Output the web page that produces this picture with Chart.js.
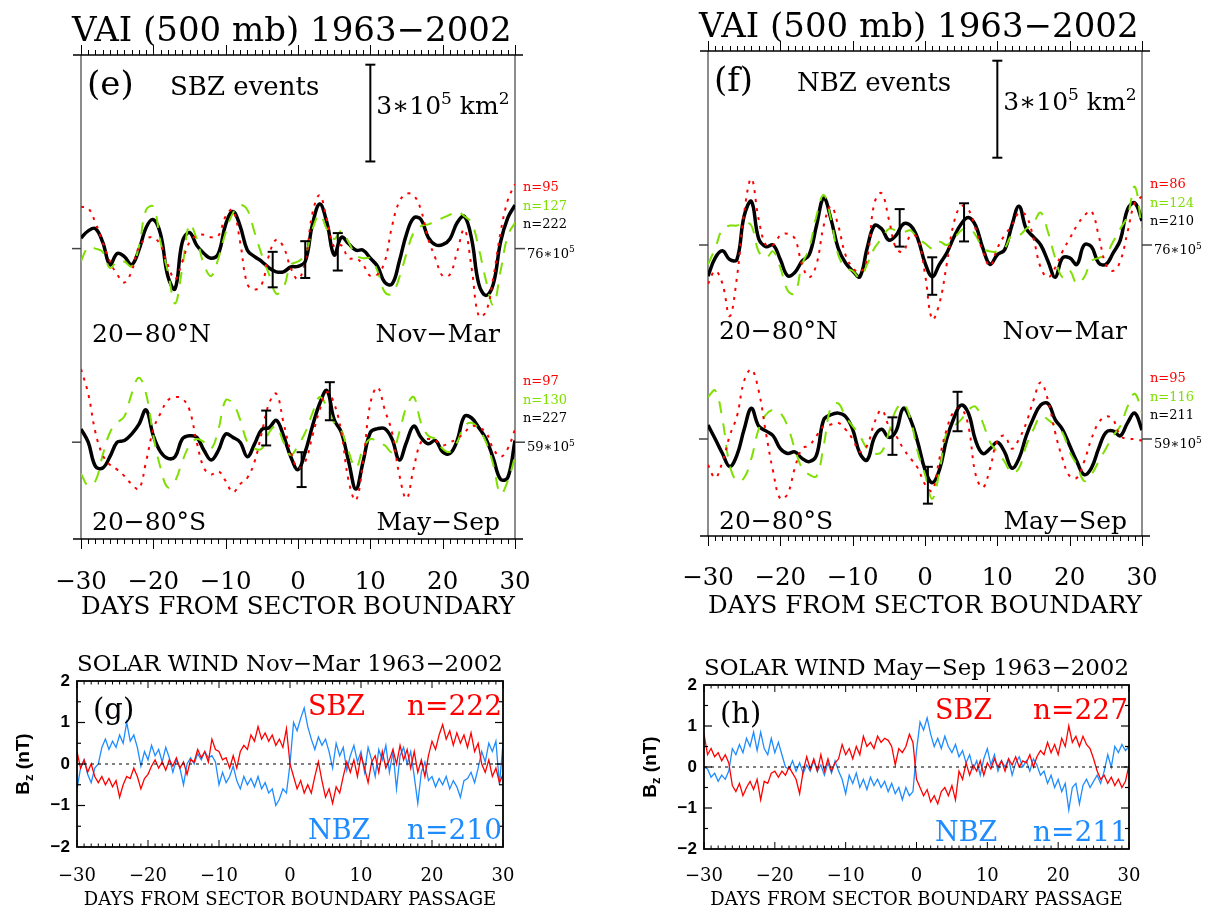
<!DOCTYPE html>
<html>
<head>
<meta charset="utf-8">
<title>VAI and solar wind Bz around sector boundaries</title>
<script src="https://cdn.jsdelivr.net/npm/chart.js@4.4.1/dist/chart.umd.min.js"></script>
<style>
  html, body { margin: 0; padding: 0; background: #fff; }
  body { width: 1210px; height: 912px; position: relative; overflow: hidden; }
  .panel { position: absolute; }
  .panel canvas { display: block; }
</style>
</head>
<body>
<div class="panel" style="left:0;top:0;width:605px;height:640px"><canvas id="vaiSbz"></canvas></div>
<div class="panel" style="left:605px;top:0;width:605px;height:640px"><canvas id="vaiNbz"></canvas></div>
<div class="panel" style="left:0;top:640px;width:605px;height:272px"><canvas id="windNov"></canvas></div>
<div class="panel" style="left:605px;top:640px;width:605px;height:272px"><canvas id="windMay"></canvas></div>
<script>
const SERIF = "'DejaVu Serif', serif";
const SANS = "'Liberation Sans', Arial, sans-serif";
const RED = '#ff0000';
const GREEN = '#7ee000';
const BLUE = '#1e8cff';

// days from sector boundary (VAI is daily)
const days = [-30, -29, -28, -27, -26, -25, -24, -23, -22, -21, -20, -19, -18, -17, -16, -15, -14, -13, -12, -11,
  -10, -9, -8, -7, -6, -5, -4, -3, -2, -1, 0, 1, 2, 3, 4, 5, 6, 7, 8, 9, 10, 11, 12, 13, 14, 15, 16, 17, 18, 19,
  20, 21, 22, 23, 24, 25, 26, 27, 28, 29, 30];

// VAI anomalies, units of 10^5 km^2
// (e) SBZ, 20-80N, Nov-Mar, about 76*10^5
const sbzNovRed = [1.3, 1.25, 0.8, 0.2, -0.4, -0.8, -1.05, -0.7, 0.05, 0.3,
  0.35, 0.1, -0.5, -0.95, -0.4, 0.2, 0.4, 0.43, 0.35, 0.4,
  1.0, 1.2, 0.2, -1.1, -1.27, -1.1, -0.2, 0.28, 0.05, -0.6,
  -0.95, -0.4, 1.1, 1.65, 0.9, 0.05, 0.1, -0.3, -0.3, -0.5,
  -0.85, -0.8, -0.4, 0.7, 1.45, 1.7, 1.65, 1.2, 0.3, -0.3,
  -0.85, -0.8, -0.1, 0.6, -0.6, -2.1, -1.95, -0.9, 0.5, 1.5, 2.0];
const sbzNovGreen = [-0.39, 0.05, 0.0, -0.1, -0.6, -0.4, -0.4, -0.55, 0.05, 1.2,
  1.3, 0.2, -0.7, -1.7, -0.6, 0.75, 0.3, -0.5, -0.85, -0.3,
  0.5, 1.1, 1.35, 1.2, 0.5, -0.2, -0.8, -1.4, -1.2, -0.5,
  -0.4, -0.2, 0.6, 1.05, 0.6, 0.3, 0.55, 0.2, -0.2, -0.3,
  -0.3, -0.7, -1.35, -1.4, -0.9, -0.15, 0.5, 0.7, 0.75, 0.85,
  0.95, 1.05, 1.15, 1.0, 0.8, 0.0, -1.0, -1.75, -0.7, 0.4, 0.8];
const sbzNovAll = [0.33, 0.55, 0.62, 0.2, -0.5, -0.15, -0.25, -0.5, -0.05, 0.65,
  0.9, 0.45, -0.85, -1.25, 0.2, 0.5, 0.1, -0.15, -0.3, -0.15,
  0.75, 1.15, 0.7, -0.05, -0.25, -0.4, -0.6, -0.72, -0.72, -0.57,
  -0.55, -0.4, 0.75, 1.38, 0.8, -0.2, 0.35, 0.15, -0.05, -0.05,
  -0.3, -0.55, -1.05, -1.1, -0.4, 0.45, 0.95, 0.9, 0.35, 0.12,
  0.12, 0.3, 0.8, 1.0, 0.3, -1.1, -1.45, -1.1, 0.2, 0.95, 1.35];
const sbzNovErrDays = [-3.5, 1.0, 5.5];
const sbzNovErrMean = [-0.65, -0.34, -0.1];
const sbzNovErrHalf = [0.55, 0.57, 0.58];

// (e) SBZ, 20-80S, May-Sep, about 59*10^5
const sbzMayRed = [2.27, 1.5, 0.3, -0.4, -0.7, -0.85, -1.05, -1.3, -1.45, -0.6,
  0.4, 0.9, 1.3, 1.4, 1.35, 1.0, 0.0, -0.8, -1.0, -0.9,
  -1.2, -1.55, -1.3, -1.1, -0.6, 0.3, 1.2, 1.5, 0.6, -0.3,
  -0.8, -0.6, 0.2, 1.0, 1.55, 1.2, 0.3, -1.2, -1.8, -0.6,
  1.2, 1.7, 1.0, 0.3, -1.0, -1.75, -0.8, 0.0, 0.1, 0.05,
  -0.1, 0.0, 0.1, 0.3, 0.5, 0.45, 0.3, -0.2, -0.45, -0.2, 0.4];
const sbzMayGreen = [-0.98, -1.35, -1.2, -0.4, 0.3, 0.6, 0.8, 1.5, 2.0, 1.5,
  0.2, -0.8, -1.4, -1.2, -0.6, -0.1, 0.1, 0.0, -0.2, 0.4,
  1.3, 1.2, 0.7, 0.0, -0.2, -0.2, 0.3, 0.5, 0.0, -0.4,
  -0.1, 0.3, 0.9, 1.4, 1.1, 0.6, 0.35, -0.3, -0.8, -0.2,
  0.1, 0.0, -0.1, -0.3, 0.3, 1.1, 1.4, 0.6, 0.2, 0.1,
  -0.2, -0.3, 0.0, 0.5, 0.6, 0.4, 0.0, -0.7, -1.6, -1.2, -0.45];
const sbzMayAll = [0.41, 0.0, -0.75, -0.8, -0.45, 0.0, 0.05, 0.25, 0.55, 1.0,
  0.2, -0.3, -0.5, -0.45, 0.1, 0.2, 0.15, -0.25, -0.55, -0.25,
  0.25, 0.15, 0.0, -0.45, -0.05, 0.4, 0.45, 0.68, 0.2, -0.45,
  -0.85, -0.3, 0.5, 1.2, 1.6, 0.7, 0.3, -0.6, -1.45, -0.6,
  0.3, 0.42, 0.42, 0.1, -0.55, 0.0, 0.5, 0.15, -0.05, 0.05,
  -0.3, -0.35, 0.05, 0.8, 0.75, 0.45, 0.1, -0.5, -1.15, -1.1, 0.05];
const sbzMayErrDays = [-4.4, 0.5, 4.4];
const sbzMayErrMean = [0.44, -0.85, 1.27];
const sbzMayErrHalf = [0.54, 0.54, 0.59];

// (f) NBZ, 20-80N, Nov-Mar, about 76*10^5
const nbzNovRed = [-1.2, -0.8, -1.2, -2.2, -1.0, 1.0, 2.05, 0.8, 0.0, 0.0,
  0.3, 0.35, 0.2, -0.6, -1.0, -0.6, 0.6, 1.2, 0.6, -0.3,
  -0.7, -0.85, -0.4, 1.3, 1.6, 0.8, -0.1, -0.2, 0.3, 0.2,
  -0.9, -2.3, -1.8, -0.6, 0.7, 1.2, 1.1, 0.5, -0.2, -0.65,
  -0.1, 0.3, 0.6, 1.0, 0.9, 0.2, -0.7, -1.0, -0.7, -0.2,
  0.2, 0.6, 0.9, 1.05, 0.3, -0.6, -0.8, -0.5, 0.4, 1.3, 1.5];
const nbzNovGreen = [-0.6, -0.1, 0.5, 0.6, 0.6, 0.7, 0.6, -0.2, -0.4, -0.2,
  -0.7, -1.4, -1.5, -0.6, -0.1, 0.9, 1.55, 0.8, -0.3, -0.7,
  -0.8, -1.0, -0.6, -0.1, 0.2, 0.5, 0.45, 0.4, 0.45, 0.2,
  0.05, -0.1, 0.1, 0.0, 0.2, 0.45, 0.55, 0.3, -0.1, -0.2,
  -0.2, -0.1, 0.3, 0.3, 0.5, 0.7, 1.0, 0.4, -0.4, -1.0,
  -0.8, -1.2, -1.0, -0.5, -0.4, -0.3, 0.1, 0.5, 0.9, 1.8, 0.45];
const nbzNovAll = [-0.96, -0.4, -0.18, -0.45, -0.45, 0.9, 1.35, 0.2, -0.05, 0.0,
  -0.45, -0.95, -0.85, -0.5, -0.3, 0.6, 1.45, 0.8, -0.1, -0.55,
  -0.8, -0.98, -0.1, 0.6, 0.5, 0.15, 0.3, 0.65, 0.6, 0.2,
  -0.55, -0.98, -0.6, -0.25, 0.25, 0.65, 0.85, 0.6, -0.1, -0.6,
  -0.3, -0.15, 0.6, 1.2, 0.5, 0.25, 0.0, -0.5, -1.0, -0.4,
  -0.4, -0.6, 0.0, -0.05, -0.55, -0.6, -0.25, 0.15, 1.1, 1.3, 0.75];
const nbzNovErrDays = [-3.5, 1.0, 5.4];
const nbzNovErrMean = [0.53, -0.96, 0.70];
const nbzNovErrHalf = [0.58, 0.58, 0.59];

// (f) NBZ, 20-80S, May-Sep, about 59*10^5
const nbzMayRed = [-0.8, -1.2, -0.7, 0.1, 0.7, 1.8, 2.15, 1.5, 0.2, -1.0,
  -1.85, -1.7, -0.9, -0.3, -0.2, 0.1, 0.4, 0.45, 0.5, 0.3,
  0.0, -0.4, -0.2, 0.5, 0.9, 0.4, 0.1, -0.3, -0.6, -0.9,
  -1.4, -1.6, -0.6, 0.3, 0.85, 0.95, 0.4, -1.1, -1.5, -0.9,
  -0.05, 0.1, -0.3, 0.0, 0.5, 1.2, 1.75, 1.2, 0.2, -0.6,
  -1.15, -1.2, -0.7, 0.0, 0.5, 0.7, 0.6, 0.1, 0.0, 0.0, -0.05];
const nbzMayGreen = [1.3, 1.5, 0.6, -0.8, -1.3, -1.2, -0.6, 0.3, 0.75, 0.9,
  0.8, 0.4, -0.3, -0.9, -1.1, -1.15, -0.2, 1.0, 1.1, 0.7,
  0.4, 0.1, -0.3, -0.45, -0.4, 0.2, 0.9, 1.1, 0.6, -0.4,
  -1.1, -1.85, -1.0, 0.2, 0.4, 0.6, 0.9, 1.0, 0.5, -0.1,
  -0.4, -0.7, -1.05, -0.9, -0.2, 0.3, 0.7, 0.6, 0.4, 0.2,
  -0.4, -0.8, -1.3, -1.1, -0.7, -0.3, 0.1, 0.4, 1.0, 1.4, 0.8];
const nbzMayAll = [0.43, 0.0, -0.45, -0.85, -0.5, 0.3, 0.95, 0.4, 0.25, 0.1,
  -0.3, -0.45, -0.4, -0.6, -0.7, -0.5, 0.6, 0.75, 0.8, 0.7,
  0.3, -0.45, -0.65, 0.05, 0.3, 0.05, 0.25, 0.95, 0.6, -0.1,
  -0.95, -1.35, -0.95, 0.0, 0.65, 1.05, 0.8, -0.05, -0.45, -0.3,
  -0.1, -0.4, -0.9, -0.6, 0.1, 0.65, 1.05, 1.1, 0.6, 0.3,
  -0.2, -0.7, -1.1, -0.9, -0.3, 0.2, 0.25, 0.1, 0.5, 0.8, 0.28];
const nbzMayErrDays = [-4.5, 0.4, 4.5];
const nbzMayErrMean = [0.09, -1.43, 0.85];
const nbzMayErrHalf = [0.58, 0.57, 0.61];

// solar wind Bz (nT), half-day steps from -30 to +30
const windSbzNov = [0.3, -0.1, 0.1, -0.2, 0.0, -0.3, -0.45, -0.3, -0.5, -0.35,
  -0.55, -0.4, -0.8, -0.5, -0.3, -0.35, -0.1, -0.3, -0.6, -0.35,
  -0.25, -0.05, 0.1, -0.1, 0.05, -0.15, 0.1, -0.05, 0.15, -0.1,
  0.05, -0.25, 0.1, 0.05, 0.35, 0.15, 0.3, 0.05, 0.6, 0.35,
  0.3, 0.1, 0.15, -0.1, 0.2, -0.1, 0.3, 0.45, 0.35, 0.7,
  0.55, 0.9, 0.6, 0.75, 0.55, 0.7, 0.45, 0.6, 0.4, 0.85,
  0.0, -0.3, -0.6, -0.4, -0.7, -0.5, -0.7, -0.3, 0.05, -0.4,
  -0.8, -0.6, -0.95, -0.55, -0.7, -0.3, 0.05, -0.2, 0.1, -0.3,
  0.2, -0.1, -0.45, 0.05, 0.2, -0.2, 0.3, -0.1, 0.1, 0.35,
  0.0, 0.45, 0.1, 0.35, -0.1, 0.3, -0.2, 0.1, -0.3, 0.2,
  0.55, 0.35, 0.7, 0.95, 0.6, 0.8, 0.45, 0.75, 0.5, 0.7,
  0.4, 0.75, 0.3, 0.5, 0.0, -0.2, 0.1, -0.3, -0.1, -0.45, -0.25];
const windNbzNov = [-0.6, -0.1, 0.1, -0.25, -0.45, -0.1, 0.0, 0.4, 0.6, 0.35,
  0.55, 0.4, 0.7, 0.5, 1.0, 0.55, 0.7, 0.4, -0.05, 0.3,
  0.1, 0.45, 0.2, 0.35, 0.05, 0.4, 0.15, -0.2, 0.1, -0.1,
  -0.5, 0.0, 0.15, 0.0, 0.25, 0.1, 0.3, 0.15, 0.2, 0.05,
  -0.5, -0.2, -0.45, -0.3, -0.05, -0.4, -0.6, -0.3, -0.5, -0.35,
  -0.55, -0.3, -0.6, -0.45, -0.7, -0.6, -1.0, -0.85, -0.6, -0.7,
  0.0, 1.0, 0.8, 1.1, 1.35, 0.9, 0.6, 0.35, 0.65, 0.45,
  0.6, 0.3, -0.1, 0.5, 0.2, 0.4, -0.15, 0.2, 0.45, 0.05,
  0.3, -0.2, 0.4, 0.1, -0.3, 0.35, 0.1, 0.45, -0.2, 0.3,
  -0.6, 0.2, 0.4, 0.0, 0.3, -0.3, -0.95, -0.2, 0.05, -0.4,
  -0.3, -0.55, -0.35, -0.5, -0.3, -0.6, -0.4, -0.55, -0.8, -0.4,
  -0.35, -0.2, -0.45, -0.1, 0.3, 0.05, 0.5, 0.3, 0.55, -0.5, 0.5];
const windSbzMay = [0.8, 0.3, 0.45, 0.25, 0.35, 0.15, 0.3, 0.1, -0.45, -0.6,
  -0.4, -0.7, -0.5, -0.35, -0.55, -0.3, -0.8, -0.35, -0.4, -0.15,
  -0.1, -0.25, -0.1, -0.2, 0.0, -0.15, -0.3, -0.65, -0.1, 0.25,
  -0.05, 0.2, -0.1, 0.3, -0.1, 0.2, -0.1, 0.1, 0.2, 0.55,
  0.3, 0.45, 0.2, 0.5, 0.3, 0.75, 0.5, 0.6, 0.45, 0.75,
  0.6, 0.7, 0.65, 0.5, 0.05, 0.45, 0.35, 0.5, 0.8, 0.6,
  -0.3, -0.5, -0.7, -0.55, -0.85, -0.7, -0.9, -0.6, -0.5, -0.7,
  -0.45, -0.8, -0.1, -0.3, 0.1, -0.2, 0.05, -0.1, 0.15, -0.2,
  0.1, -0.05, 0.2, 0.0, 0.15, -0.1, 0.2, 0.05, 0.25, 0.0,
  0.15, 0.1, 0.3, 0.0, 0.25, 0.4, 0.3, 0.6, 0.35, 0.55,
  0.3, 0.7, 0.5, 1.0, 0.6, 0.75, 0.5, 0.75, 0.55, 0.45,
  0.2, -0.1, -0.3, -0.2, -0.4, -0.25, -0.45, -0.3, -0.5, -0.35, 0.05];
const windNbzMay = [0.0, -0.05, -0.25, -0.15, -0.35, -0.2, -0.3, -0.1, 0.45, 0.3,
  0.55, 0.35, 0.7, 0.5, 0.85, 0.4, 0.85, 0.45, 0.3, 0.7,
  0.35, 0.6, 0.3, 0.0, -0.05, 0.15, -0.1, 0.1, -0.15, 0.05,
  -0.1, 0.15, -0.1, 0.05, -0.2, 0.1, -0.15, 0.15, -0.1, -0.3,
  -0.65, -0.2, -0.4, -0.15, -0.5, -0.3, -0.55, -0.25, -0.45, -0.3,
  -0.5, -0.35, -0.6, -0.4, -0.65, -0.5, -0.8, -0.5, -0.7, -0.6,
  0.4, 1.1, 0.9, 1.2, 0.8, 0.5, 0.7, 0.45, 0.75, 0.5,
  0.35, 0.55, 0.25, 0.4, 0.1, 0.3, -0.05, 0.15, -0.2, 0.2,
  0.45, 0.05, 0.3, -0.1, 0.15, 0.0, 0.2, -0.2, 0.1, 0.25,
  0.0, 0.15, -0.1, 0.2, 0.05, -0.2, -0.1, -0.4, -0.2, -0.5,
  -0.3, -0.6, -0.4, -1.05, -0.5, -0.4, -0.9, -0.45, -0.3, -0.5,
  -0.35, -0.2, -0.4, -0.1, 0.3, 0.0, 0.5, 0.35, 0.55, 0.4, 0.5];
const windDays = windSbzNov.map((_, i) => -30 + i / 2);

const minus = v => (v < 0 ? '\u2212' + Math.abs(v) : String(v));
const pts = (xs, ys, off = 0) => ys.map((v, i) => ({ x: xs[i], y: v + off }));

function seg(ctx, x1, y1, x2, y2, color, width) {
  ctx.strokeStyle = color;
  ctx.lineWidth = width;
  ctx.beginPath();
  ctx.moveTo(x1, y1);
  ctx.lineTo(x2, y2);
  ctx.stroke();
}

// text with super/subscript pieces: parts = [[str, 'sup'|'sub'|undefined], ...]
function richText(ctx, parts, x, y, opt) {
  const { size, color = '#000', align = 'left', family = SERIF, weight = 'normal' } = opt;
  const fontOf = m => `${weight} ${m ? Math.round(size * 0.66) : size}px ${family}`;
  ctx.save();
  ctx.fillStyle = color;
  ctx.textAlign = 'left';
  ctx.textBaseline = 'alphabetic';
  let w = 0;
  for (const [s, m] of parts) { ctx.font = fontOf(m); w += ctx.measureText(s).width; }
  let cx = align === 'right' ? x - w : align === 'center' ? x - w / 2 : x;
  for (const [s, m] of parts) {
    ctx.font = fontOf(m);
    const dy = m === 'sup' ? -size * 0.42 : m === 'sub' ? size * 0.22 : 0;
    ctx.fillText(s, cx, y + dy);
    cx += ctx.measureText(s).width;
  }
  ctx.restore();
}
const text = (ctx, s, x, y, opt) => richText(ctx, [[s]], x, y, opt);

const vaiCfg = {
  vaiSbz: {
    tag: '(e)', events: 'SBZ events',
    pad: { left: 81, right: 90, top: 55, bottom: 0 }, axisH: 101, tickPad: 28.5, titlePad: 18,
    groups: [
      { base: 9, level: '76', red: sbzNovRed, green: sbzNovGreen, all: sbzNovAll, n: [95, 127, 222],
        region: '20\u221280°N', season: 'Nov\u2212Mar', regionDy: 93,
        errDays: sbzNovErrDays, errMean: sbzNovErrMean, errHalf: sbzNovErrHalf },
      { base: 3, level: '59', red: sbzMayRed, green: sbzMayGreen, all: sbzMayAll, n: [97, 130, 227],
        region: '20\u221280°S', season: 'May\u2212Sep', regionDy: 88,
        errDays: sbzMayErrDays, errMean: sbzMayErrMean, errHalf: sbzMayErrHalf }
    ]
  },
  vaiNbz: {
    tag: '(f)', events: 'NBZ events',
    pad: { left: 103, right: 68, top: 51, bottom: 0 }, axisH: 104, tickPad: 27.5, titlePad: 19,
    groups: [
      { base: 9, level: '76', red: nbzNovRed, green: nbzNovGreen, all: nbzNovAll, n: [86, 124, 210],
        region: '20\u221280°N', season: 'Nov\u2212Mar', regionDy: 94,
        errDays: nbzNovErrDays, errMean: nbzNovErrMean, errHalf: nbzNovErrHalf },
      { base: 3, level: '59', red: nbzMayRed, green: nbzMayGreen, all: nbzMayAll, n: [95, 116, 211],
        region: '20\u221280°S', season: 'May\u2212Sep', regionDy: 90,
        errDays: nbzMayErrDays, errMean: nbzMayErrMean, errHalf: nbzMayErrHalf }
    ]
  }
};

const vaiDecor = {
  id: 'vaiDecor',
  beforeDatasetsDraw(chart) {
    const c = vaiCfg[chart.canvas.id];
    const { ctx, chartArea: a, scales: { x, y } } = chart;
    ctx.save();
    seg(ctx, a.left, a.top, a.left, a.bottom, '#8c8c8c', 2);
    seg(ctx, a.right, a.top, a.right, a.bottom, '#8c8c8c', 2);
    seg(ctx, a.left - 8, a.top, a.right + 8, a.top, '#000', 1.5);
    seg(ctx, a.left - 8, a.bottom, a.right + 8, a.bottom, '#000', 1.5);
    days.forEach(d => {
      const px = Math.round(x.getPixelForValue(d)) + 0.5;
      const len = d % 10 === 0 ? 10 : 5;
      seg(ctx, px, a.top, px, a.top - len, '#000', 1);
      seg(ctx, px, a.bottom, px, a.bottom + len, '#000', 1);
    });
    c.groups.forEach(g => {
      const py = y.getPixelForValue(g.base);
      seg(ctx, a.left - 9, py, a.left, py, '#444', 1.5);
      seg(ctx, a.right, py, a.right + 10, py, '#444', 1.5);
    });
    ctx.restore();
  },
  afterDatasetsDraw(chart) {
    const c = vaiCfg[chart.canvas.id];
    const { ctx, chartArea: a, scales: { x, y } } = chart;
    ctx.save();
    // error bars on the all-events curve
    c.groups.forEach(g => {
      g.errDays.forEach((d, i) => {
        const px = x.getPixelForValue(d);
        const lo = y.getPixelForValue(g.base + g.errMean[i] - g.errHalf[i]);
        const hi = y.getPixelForValue(g.base + g.errMean[i] + g.errHalf[i]);
        seg(ctx, px, lo, px, hi, '#000', 2);
        seg(ctx, px - 5, lo, px + 5, lo, '#000', 2);
        seg(ctx, px - 5, hi, px + 5, hi, '#000', 2);
      });
    });
    // 3*10^5 km^2 scale bar
    const bx = x.getPixelForValue(10);
    const b1 = y.getPixelForValue(11.7), b2 = y.getPixelForValue(14.7);
    seg(ctx, bx, b1, bx, b2, '#000', 2);
    seg(ctx, bx - 5, b1, bx + 5, b1, '#000', 2);
    seg(ctx, bx - 5, b2, bx + 5, b2, '#000', 2);
    richText(ctx, [['3\u221710'], ['5', 'sup'], [' km'], ['2', 'sup']], bx + 6, a.top + 59, { size: 25 });

    text(ctx, 'VAI (500 mb) 1963\u22122002', a.left - 9, a.top - 14, { size: 34 });
    text(ctx, c.tag, a.left + 6, a.top + 40, { size: 34 });
    text(ctx, c.events, a.left + 89, a.top + 40, { size: 26 });

    c.groups.forEach(g => {
      const py = y.getPixelForValue(g.base);
      const nx = a.right + 8;
      text(ctx, 'n=' + g.n[0], nx, py - 57.5, { size: 13, color: RED });
      text(ctx, 'n=' + g.n[1], nx, py - 38.5, { size: 13, color: GREEN });
      text(ctx, 'n=' + g.n[2], nx, py - 20.5, { size: 13 });
      richText(ctx, [[g.level + '\u221710'], ['5', 'sup']], a.right + 12, py + 9, { size: 13 });
      text(ctx, g.region, a.left + 11, py + g.regionDy, { size: 25 });
      text(ctx, g.season, a.right - 15, py + g.regionDy, { size: 25, align: 'right' });
    });
    ctx.restore();
  }
};

function vaiChart(id) {
  const c = vaiCfg[id];
  const datasets = [];
  c.groups.forEach(g => {
    datasets.push({ data: pts(days, g.red, g.base), borderColor: RED, borderWidth: 2, borderDash: [3, 6] });
    datasets.push({ data: pts(days, g.green, g.base), borderColor: GREEN, borderWidth: 2, borderDash: [12, 10] });
  });
  c.groups.forEach(g => {
    datasets.push({ data: pts(days, g.all, g.base), borderColor: '#000', borderWidth: 3.5 });
  });
  return new Chart(document.getElementById(id), {
    type: 'line',
    data: { datasets },
    options: {
      responsive: true,
      maintainAspectRatio: false,
      animation: false,
      events: [],
      layout: { padding: c.pad },
      elements: { point: { radius: 0 }, line: { tension: 0.4, fill: false } },
      plugins: { legend: { display: false }, tooltip: { enabled: false } },
      scales: {
        x: {
          type: 'linear', min: -30, max: 30,
          afterFit: s => { s.height = c.axisH; },
          grid: { display: false, drawTicks: false },
          border: { display: false },
          ticks: {
            stepSize: 10, padding: c.tickPad, color: '#000', maxRotation: 0, autoSkip: false,
            font: { family: SERIF, size: 24.5 }, callback: v => minus(v)
          },
          title: {
            display: true, text: 'DAYS FROM SECTOR BOUNDARY', color: '#000',
            font: { family: SERIF, size: 25 }, padding: { top: 0, bottom: c.titlePad }
          }
        },
        y: { display: false, min: 0, max: 15 }
      }
    },
    plugins: [vaiDecor]
  });
}

const windCfg = {
  windNov: {
    title: 'SOLAR WIND Nov\u2212Mar 1963\u22122002', tag: '(g)',
    sbz: windSbzNov, nbz: windNbzNov, nS: 222, nN: 210,
    pad: { left: 37, right: 102, top: 41, bottom: 0 }, axisH: 65, tickPad: 19, titlePad: 1
  },
  windMay: {
    title: 'SOLAR WIND May\u2212Sep 1963\u22122002', tag: '(h)',
    sbz: windSbzMay, nbz: windNbzMay, nS: 227, nN: 211,
    pad: { left: 59, right: 81, top: 45, bottom: 0 }, axisH: 63, tickPad: 17, titlePad: 1
  }
};

const windDecor = {
  id: 'windDecor',
  afterDatasetsDraw(chart) {
    const c = windCfg[chart.canvas.id];
    const { ctx, chartArea: a, scales: { x, y } } = chart;
    ctx.save();
    ctx.strokeStyle = '#000';
    ctx.lineWidth = 1.8;
    ctx.strokeRect(a.left, a.top, a.right - a.left, a.bottom - a.top);
    days.forEach(d => {
      const px = x.getPixelForValue(d);
      const len = d % 10 === 0 ? 7 : 3.5;
      seg(ctx, px, a.top, px, a.top + len, '#000', 1);
      seg(ctx, px, a.bottom, px, a.bottom - len, '#000', 1);
    });
    [-1.5, -1, -0.5, 0, 0.5, 1, 1.5].forEach(v => {
      const py = y.getPixelForValue(v);
      const len = Number.isInteger(v) ? 8 : 4;
      seg(ctx, a.left, py, a.left + len, py, '#000', 1.2);
      seg(ctx, a.right, py, a.right - len, py, '#000', 1.2);
    });
    text(ctx, c.title, a.left, a.top - 10, { size: 22.9 });
    text(ctx, c.tag, a.left + 16, a.top + 38, { size: 29 });
    text(ctx, 'SBZ', a.left + 231, a.top + 34, { size: 27, color: RED });
    text(ctx, 'n=' + c.nS, a.right - 1, a.top + 34, { size: 28, color: RED, align: 'right' });
    text(ctx, 'NBZ', a.left + 231, a.bottom - 8, { size: 27, color: BLUE });
    text(ctx, 'n=' + c.nN, a.right - 1, a.bottom - 8, { size: 28, color: BLUE, align: 'right' });
    // rotated y title B_z (nT)
    ctx.translate(a.left - 55, (a.top + a.bottom) / 2);
    ctx.rotate(-Math.PI / 2);
    richText(ctx, [['B'], ['z', 'sub'], [' (nT)']], 0, 7, { size: 19, family: SANS, weight: 'bold', align: 'center' });
    ctx.restore();
  }
};

function windChart(id) {
  const c = windCfg[id];
  return new Chart(document.getElementById(id), {
    type: 'line',
    data: {
      datasets: [
        { data: [{ x: -30, y: 0 }, { x: 30, y: 0 }], borderColor: '#000', borderWidth: 1, borderDash: [3, 4] },
        { data: pts(windDays, c.sbz), borderColor: RED, borderWidth: 1.3 },
        { data: pts(windDays, c.nbz), borderColor: BLUE, borderWidth: 1.3 }
      ]
    },
    options: {
      responsive: true,
      maintainAspectRatio: false,
      animation: false,
      events: [],
      layout: { padding: c.pad },
      elements: { point: { radius: 0 }, line: { tension: 0, fill: false } },
      plugins: { legend: { display: false }, tooltip: { enabled: false } },
      scales: {
        x: {
          type: 'linear', min: -30, max: 30,
          afterFit: s => { s.height = c.axisH; },
          grid: { display: false, drawTicks: false },
          border: { display: false },
          ticks: {
            stepSize: 10, padding: c.tickPad, color: '#000', maxRotation: 0, autoSkip: false,
            font: { family: SERIF, size: 18 }, callback: v => minus(v)
          },
          title: {
            display: true, text: 'DAYS FROM SECTOR BOUNDARY PASSAGE', color: '#000',
            font: { family: SERIF, size: 18 }, padding: { top: 0, bottom: c.titlePad }
          }
        },
        y: {
          min: -2, max: 2,
          afterFit: s => { s.width = 40; },
          grid: { display: false, drawTicks: false },
          border: { display: false },
          ticks: {
            stepSize: 1, padding: 7, color: '#000',
            font: { family: SANS, size: 17, weight: 'bold' }, callback: v => minus(v)
          }
        }
      }
    },
    plugins: [windDecor]
  });
}

vaiChart('vaiSbz');
vaiChart('vaiNbz');
windChart('windNov');
windChart('windMay');
</script>
</body>
</html>
